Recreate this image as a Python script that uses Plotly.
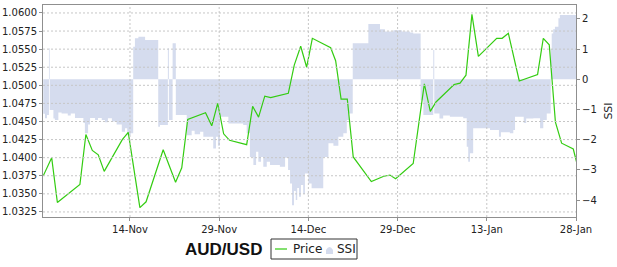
import plotly.graph_objects as go
import pandas as pd

# ---- data ----
price_dates = [
    "2017-10-30 10:00", "2017-10-31 20:00", "2017-11-01 19:00", "2017-11-05 14:00",
    "2017-11-06 14:00", "2017-11-07 16:00", "2017-11-08 16:00", "2017-11-09 16:00",
    "2017-11-12 17:00", "2017-11-13 17:00", "2017-11-15 16:00", "2017-11-16 17:00",
    "2017-11-19 14:00", "2017-11-21 16:00", "2017-11-22 17:00", "2017-11-23 17:00",
    "2017-11-26 17:00", "2017-11-27 18:00", "2017-11-28 18:00", "2017-11-29 18:00",
    "2017-11-30 18:00", "2017-12-03 15:00", "2017-12-04 15:00", "2017-12-05 15:00",
    "2017-12-06 16:00", "2017-12-07 16:00", "2017-12-10 15:00", "2017-12-11 15:00",
    "2017-12-12 17:00", "2017-12-13 17:00", "2017-12-14 16:00", "2017-12-17 18:00",
    "2017-12-18 14:00", "2017-12-19 12:00", "2017-12-20 13:00", "2017-12-21 13:00",
    "2017-12-24 14:00", "2017-12-26 14:00", "2017-12-27 17:00", "2017-12-28 16:00",
    "2017-12-31 15:00", "2018-01-02 12:00", "2018-01-03 12:00", "2018-01-04 11:00",
    "2018-01-07 12:00", "2018-01-08 12:00", "2018-01-09 12:00", "2018-01-10 12:00",
    "2018-01-11 14:00", "2018-01-14 16:00", "2018-01-15 14:00", "2018-01-16 15:00",
    "2018-01-18 11:00", "2018-01-21 13:00", "2018-01-22 12:00", "2018-01-23 12:00",
    "2018-01-24 13:00", "2018-01-25 14:00", "2018-01-27 13:00", "2018-01-28 03:00",
]
price_values = [
    1.0375, 1.0400, 1.0338, 1.0363, 1.0432, 1.0410, 1.0404, 1.0381,
    1.0425, 1.0435, 1.0331, 1.0339, 1.0411, 1.0366, 1.0386, 1.0453,
    1.0462, 1.0444, 1.0475, 1.0433, 1.0424, 1.0418, 1.0471, 1.0456,
    1.0485, 1.0483, 1.0489, 1.0528, 1.0554, 1.0525, 1.0565, 1.0552,
    1.0534, 1.0481, 1.0481, 1.0401, 1.0367, 1.0374, 1.0376, 1.0371,
    1.0392, 1.0502, 1.0464, 1.0477, 1.0501, 1.0503, 1.0514, 1.0598,
    1.0540, 1.0565, 1.0565, 1.0572, 1.0506, 1.0515, 1.0565, 1.0556,
    1.0449, 1.0420, 1.0412, 1.0393,
]

ssi_start = "2017-10-30 09:00"
ssi_hours = [
    1, 8, 16, 24, 27, 42, 48, 62, 75, 100, 112, 129, 163, 169, 182, 190, 210, 222, 237,
    250, 262, 278, 297, 318, 331, 340, 354, 364, 371, 385, 412, 465, 472, 504, 508, 523,
    536, 580, 600, 612, 634, 647, 687, 698, 706, 714, 748, 808, 822, 835, 849, 860, 869,
    880, 889, 903, 916, 956, 977, 989, 997, 1005, 1013, 1020, 1026, 1033, 1041, 1050,
    1057, 1071, 1084, 1131, 1152, 1172, 1192, 1212, 1226, 1235, 1250, 1313, 1360, 1380,
    1414, 1448, 1481, 1494, 1524, 1535, 1575, 1579, 1600, 1615, 1642, 1696, 1710, 1716,
    1723, 1736, 1777, 1804, 1840, 1848, 1884, 1898, 1905, 1940, 1950, 1979, 2006, 2019,
    2033, 2049, 2053, 2059, 2066, 2080, 2086, 2154,
]
ssi_values = [
    -1.14, -1.29, -1.18, 1.03, -1.02, -1.30, -1.35, -1.10, -1.13, -1.20, -1.13, -1.28,
    -1.45, -1.79, -1.50, -1.28, -1.35, -1.28, -1.35, -1.42, -1.29, -1.40, -1.50, -1.74,
    -1.62, -1.85, -1.79, 1.08, 1.36, 1.41, 1.30, -1.57, -1.51, 1.03, -1.35, 1.19,
    -1.18, -1.85, -1.70, -1.82, -1.74, -1.90, -2.29, -1.90, -2.20, -1.24, -1.46, -1.51,
    -1.79, -2.57, -2.84, -2.40, -2.73, -2.57, -2.90, -2.73, -2.84, -2.90, -2.60, -3.00,
    -3.45, -4.17, -3.70, -4.00, -3.60, -3.89, -3.50, -3.80, -3.12, -3.45, -3.61, -2.57,
    -2.12, -2.20, -1.90, -1.79, -1.35, -1.13, 1.19, 1.83, 1.66, 1.58, 1.62, 1.58,
    1.55, 1.52, -0.69, -1.18, 0.97, -1.13, -1.30, -1.20, -1.24, -1.29, -2.23, -2.73,
    -2.45, -1.62, -1.62, -1.68, -1.90, -1.75, -1.79, -1.68, -1.24, -1.45, -1.30, -1.29,
    -1.62, -1.35, -1.13, 1.00, 1.52, 1.66, 1.74, 2.02, 2.13, 2.13,
]

x_ticks = ["2017-11-14", "2017-11-29", "2017-12-14", "2017-12-29", "2018-01-13", "2018-01-28"]
price_ticks = [1.0325, 1.0350, 1.0375, 1.0400, 1.0425, 1.0450, 1.0475,
               1.0500, 1.0525, 1.0550, 1.0575, 1.0600]
x_range = ["2017-10-30 09:00", "2018-01-28 00:00"]
price_range = [1.0318, 1.0611]
ssi_range = [-4.56, 2.46]

ssi_dates = pd.Timestamp(ssi_start) + pd.to_timedelta(ssi_hours, unit="h")

# ---- style ----
GREEN = "#33cc11"
FILL = "#d5dcee"
AXIS = "#8f8f8f"
GRID = "#c6c6c6"
TICKFONT = dict(family="DejaVu Sans", size=10, color="#222222")

fig = go.Figure()
fig.add_trace(go.Scatter(
    x=ssi_dates, y=ssi_values, name="SSI", mode="lines", line=dict(width=0, shape="hv"),
    fill="tozeroy", fillcolor=FILL, yaxis="y", hoverinfo="skip"))
fig.add_trace(go.Scatter(
    x=price_dates, y=price_values, name="Price", mode="lines",
    line=dict(color=GREEN, width=1.2), yaxis="y2"))

fig.update_layout(
    width=617, height=267,
    margin=dict(l=43, r=41, t=5, b=50, autoexpand=False),
    paper_bgcolor="white", plot_bgcolor="white",
    showlegend=False,
    xaxis=dict(
        range=x_range, tickvals=x_ticks, tickformat="%d-%b", tickfont=TICKFONT,
        showgrid=False,
        showline=True, linecolor=AXIS, linewidth=1, mirror=True,
        ticks="outside", ticklen=3, tickcolor=AXIS, zeroline=False),
    yaxis=dict(
        range=ssi_range, dtick=1, side="right", tickfont=TICKFONT,
        showgrid=False, zeroline=False, showline=True, linecolor=AXIS, linewidth=1,
        ticks="outside", ticklen=3, tickcolor=AXIS,
        title=dict(text="SSI", font=dict(family="DejaVu Sans", size=11, color="#222222"), standoff=8)),
    yaxis2=dict(
        range=price_range, tickvals=price_ticks, tickformat=".4f", side="left",
        overlaying="y", tickfont=TICKFONT,
        showgrid=False,
        zeroline=False, showline=True, linecolor=AXIS, linewidth=1, mirror=True,
        ticks="outside", ticklen=3, tickcolor=AXIS),
)

# dashed grid drawn above the SSI area, at the axis tick values
for t in x_ticks[:-1]:
    fig.add_shape(type="line", xref="x", yref="paper", x0=t, x1=t, y0=0, y1=1,
                  layer="above", line=dict(color=GRID, width=1, dash="2px,2px"))
for t in price_ticks:
    fig.add_shape(type="line", xref="paper", yref="y2", x0=0, x1=1, y0=t, y1=t,
                  layer="above", line=dict(color=GRID, width=1, dash="2px,2px"))

# ---- title and legend box below the plot ----
def px_x(x):
    return (x - 43) / 533.0

def px_y(y):
    return (217 - y) / 212.0

fig.add_annotation(text="<b>AUD/USD</b>", xref="paper", yref="paper",
                   x=px_x(264), y=px_y(249), xanchor="right", yanchor="middle",
                   showarrow=False, font=dict(family="Liberation Sans", size=17, color="#111111"))
fig.add_shape(type="rect", xref="paper", yref="paper",
              x0=px_x(271), x1=px_x(357), y0=px_y(259), y1=px_y(239),
              line=dict(color="#333333", width=1), fillcolor="white")
fig.add_shape(type="line", xref="paper", yref="paper",
              x0=px_x(275), x1=px_x(287), y0=px_y(249), y1=px_y(249),
              line=dict(color=GREEN, width=1.2))
fig.add_annotation(text="Price", xref="paper", yref="paper",
                   x=px_x(291), y=px_y(249), xanchor="left", yanchor="middle",
                   showarrow=False, font=dict(family="DejaVu Sans", size=12, color="#222222"))
fig.add_shape(type="path", xref="paper", yref="paper",
              path=(f"M {px_x(326)},{px_y(254)} L {px_x(326)},{px_y(250)} "
                    f"Q {px_x(329.5)},{px_y(244)} {px_x(333)},{px_y(250)} L {px_x(333)},{px_y(254)} Z"),
              line=dict(width=0), fillcolor=FILL)
fig.add_annotation(text="SSI", xref="paper", yref="paper",
                   x=px_x(335), y=px_y(249), xanchor="left", yanchor="middle",
                   showarrow=False, font=dict(family="DejaVu Sans", size=12, color="#222222"))

fig.write_html("out.html")
